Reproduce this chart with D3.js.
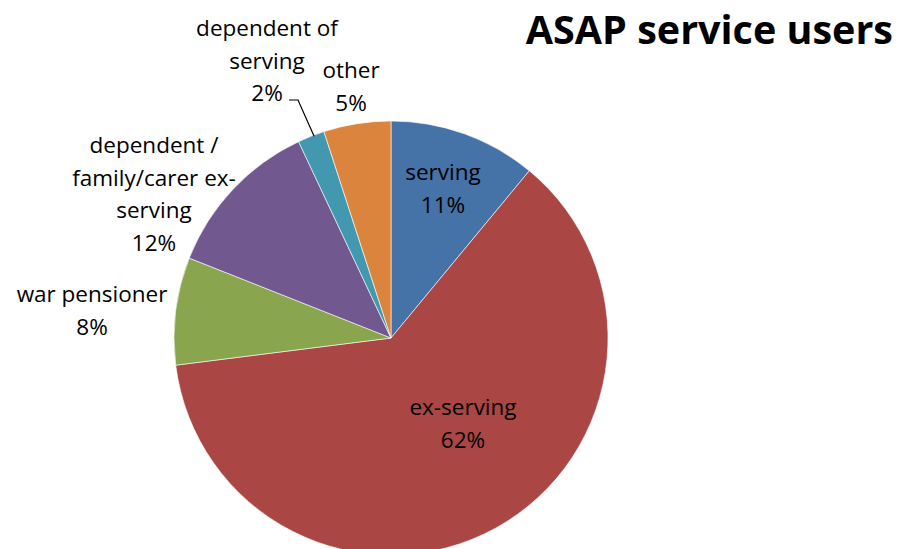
<!DOCTYPE html>
<html><head><meta charset="utf-8">
<script src="https://cdn.jsdelivr.net/npm/d3@7/dist/d3.min.js"></script>
<style>html,body{margin:0;padding:0;background:#fff;}svg{display:block;}</style>
</head><body>
<svg id="chart" width="899" height="549"></svg>
<script>
const categories = ["serving", "ex-serving", "war pensioner", "dependent / family/carer ex-serving", "dependent of serving", "other"];
const values = [11, 62, 8, 12, 2, 5];
const labelLines = [["serving","11%"],["ex-serving","62%"],["war pensioner","8%"],["dependent /","family/carer ex-","serving","12%"],["dependent of","serving","2%"],["other","5%"]];
const colors = ["#4572A7", "#AA4643", "#89A54E", "#71588F", "#4198AF", "#DB843D"];
const title = "ASAP service users";

// layout (label anchor: x centre, first baseline)
const labelPos = [[443,180],[463,415],[92,302],[154,153],[267,36],[351,78]];

const svg = d3.select("#chart");
const cx = 391, cy = 338, R = 217;
const g = svg.append("g").attr("transform", `translate(${cx},${cy})`);
const pie = d3.pie().sort(null).value(d => d)(values);
const arc = d3.arc().innerRadius(0).outerRadius(R);
g.selectAll("path").data(pie).join("path")
  .attr("d", arc).attr("fill", (d,i) => colors[i])
  .attr("stroke", "#fff").attr("stroke-width", 0.6);

const font = "'Open Sans', sans-serif";
const fs = 22.5, lh = 32.5;
labelLines.forEach((lines, i) => {
  const t = svg.append("text").attr("font-family", font).attr("font-size", fs)
    .attr("fill", "#000").attr("text-anchor", "middle");
  lines.forEach((l, j) => t.append("tspan").attr("x", labelPos[i][0]).attr("y", labelPos[i][1] + j*lh).text(l));
});

// leader line for "dependent of serving"
const sl = pie[4];
const midA = (sl.startAngle + sl.endAngle) / 2;
const ex = Math.sin(midA) * R + cx, ey = -Math.cos(midA) * R + cy;
svg.append("path").attr("d", `M289,100 L298,100 L${ex + 3},${ey}`)
  .attr("fill", "none").attr("stroke", "#000").attr("stroke-width", 1.2);

svg.append("text").attr("x", 893).attr("y", 44).attr("text-anchor", "end")
  .attr("font-family", font).attr("font-weight", "bold").attr("font-size", 39.5)
  .attr("fill", "#000").text(title);
</script>
</body></html>
